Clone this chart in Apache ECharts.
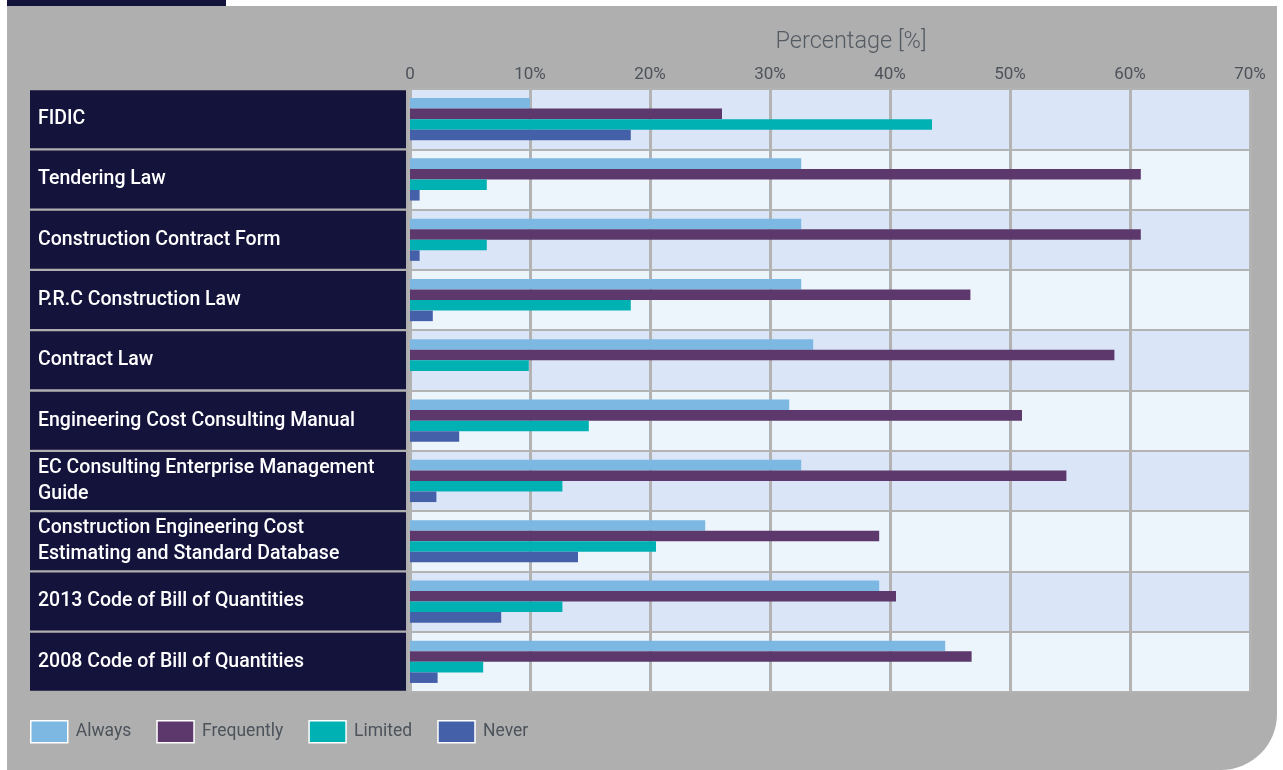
<!DOCTYPE html>
<html>
<head>
<meta charset="utf-8">
<script src="https://cdn.jsdelivr.net/npm/echarts@6/dist/echarts.min.js"></script>
<style>
  html, body { margin: 0; padding: 0; background: #fff; }
  #chart { width: 1283px; height: 770px; }
</style>
</head>
<body>
<div id="chart"></div>
<script>
// categories, top to bottom
const categories = [
  'FIDIC',
  'Tendering Law',
  'Construction Contract Form',
  'P.R.C Construction Law',
  'Contract Law',
  'Engineering Cost Consulting Manual',
  'EC Consulting Enterprise Management\nGuide',
  'Construction Engineering Cost\nEstimating and Standard Database',
  '2013 Code of Bill of Quantities',
  '2008 Code of Bill of Quantities'
];
const always     = [10.0, 32.6, 32.6, 32.6, 33.6, 31.6, 32.6, 24.6, 39.1, 44.6];
const frequently = [26.0, 60.9, 60.9, 46.7, 58.7, 51.0, 54.7, 39.1, 40.5, 46.8];
const limited    = [43.5,  6.4,  6.4, 18.4,  9.9, 14.9, 12.7, 20.5, 12.7,  6.1];
const never      = [18.4,  0.8,  0.8,  1.9,  0,    4.1,  2.2, 14.0,  7.6,  2.3];
const tickLabels = ['0', '10%', '20%', '30%', '40%', '50%', '60%', '70%'];

const font = 'Roboto, "DejaVu Sans", sans-serif';
const navy = '#14133c';
const lineGray = '#b3b3b3';

const myChart = echarts.init(document.getElementById('chart'));

const bar = (name, data, color) => ({
  name: name,
  type: 'bar',
  data: data,
  barGap: '0%',
  barCategoryGap: '30%',
  itemStyle: {color: color},
  emphasis: {disabled: true}
});

myChart.setOption({
  backgroundColor: '#ffffff',
  animation: false,
  textStyle: {fontFamily: font},
  graphic: [
    {
      type: 'rect', z: -10, silent: true,
      shape: {x: 7, y: 6, width: 1270, height: 764, r: [0, 0, 56, 0]},
      style: {fill: '#afafaf'}
    },
    {
      type: 'rect', z: -10, silent: true,
      shape: {x: 7, y: 0, width: 219, height: 6},
      style: {fill: navy}
    }
  ],
  grid: {left: 410, right: 33, top: 89, bottom: 78},
  legend: {
    left: 25,
    top: 715,
    itemWidth: 37,
    itemHeight: 22,
    itemGap: 25,
    icon: 'rect',
    itemStyle: {borderColor: '#ffffff', borderWidth: 1.5},
    textStyle: {color: '#4d535b', fontSize: 17.5, fontFamily: font, padding: [0, 0, 0, 3]},
    data: ['Always', 'Frequently', 'Limited', 'Never']
  },
  xAxis: {
    type: 'value',
    position: 'top',
    min: 0,
    max: 70,
    interval: 10,
    name: 'Percentage [%]',
    nameLocation: 'middle',
    nameGap: 35,
    nameTextStyle: {color: '#555b63', fontSize: 23.5, fontWeight: 300, padding: [0, 0, 0, 42]},
    axisLine: {show: false},
    axisTick: {show: false},
    axisLabel: {
      color: '#4d525a',
      fontSize: 17,
      margin: 6,
      formatter: (v) => tickLabels[Math.round(v / 10)]
    },
    splitLine: {show: true, lineStyle: {color: lineGray, width: 3}}
  },
  yAxis: {
    type: 'category',
    inverse: true,
    data: categories,
    axisTick: {show: false},
    axisLine: {show: true, lineStyle: {color: lineGray, width: 4}},
    splitLine: {show: true, lineStyle: {color: lineGray, width: 2}},
    splitArea: {show: true, areaStyle: {color: ['#dae6f7', '#ecf4fc']}},
    axisLabel: {
      margin: 380,
      align: 'left',
      verticalAlign: 'middle',
      color: '#ffffff',
      fontSize: 19.5,
      fontWeight: 500,
      lineHeight: 26,
      width: 368,
      height: 54,
      padding: [4, 0, 0, 8],
      backgroundColor: navy
    }
  },
  series: [
    bar('Always', always, '#7db8e3'),
    bar('Frequently', frequently, '#5d386c'),
    bar('Limited', limited, '#00b1b4'),
    bar('Never', never, '#4460a9')
  ]
});
</script>
</body>
</html>
